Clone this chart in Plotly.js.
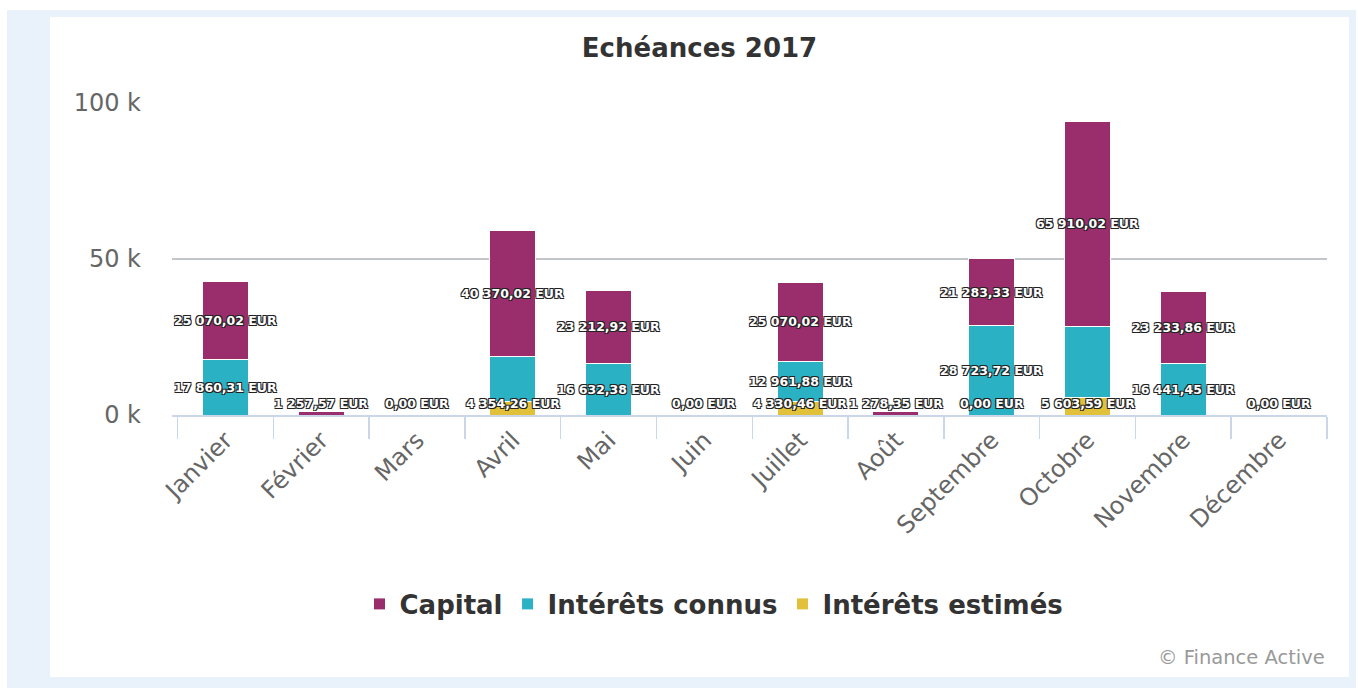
<!DOCTYPE html>
<html><head><meta charset="utf-8">
<script src="https://cdn.plot.ly/plotly-3.0.1.min.js"></script>
<style>
html,body{margin:0;padding:0;background:#fff;}
#bg{position:absolute;left:7px;top:10px;width:1349px;height:678px;background:#e9f1fa;}
#chart{position:absolute;left:50px;top:17px;width:1299px;height:660px;background:#fff;}
</style></head><body><div id="bg"></div><div id="chart"></div>
<script>
const months = ['Janvier','Février','Mars','Avril','Mai','Juin','Juillet','Août','Septembre','Octobre','Novembre','Décembre'];
const capital = [25070.02,1257.57,0,40370.02,23212.92,0,25070.02,1278.35,21283.33,65910.02,23233.86,0];
const interetsConnus = [17860.31,0,0,14314.08,16632.38,0,12961.88,0,28723.72,22700.00,16441.45,0];
const interetsEstimes = [0,0,0,4354.26,0,0,4330.46,0,0,5603.59,0,0];
const yTickVals = [0,50000,100000];
const yTickText = ['0 k','50 k','100 k'];

const colCapital = '#9a2e6c', colConnus = '#2bb1c4', colEstimes = '#e2c13a';

function fmt(v){
  const p = v.toFixed(2).split('.');
  return p[0].replace(/\B(?=(\d{3})+(?!\d))/g,' ') + ',' + p[1] + ' EUR';
}

const W = 1299, H = 660, M = {l:122, r:22, t:86, b:262};
const plotW = W - M.l - M.r, plotH = H - M.t - M.b;
const yMax = 100000;
const catW = plotW / months.length;
const pxPerY = plotH / yMax;

const barTrace = (name, vals, color) => ({
  type:'bar', name:name, x:months, y:vals,
  marker:{color:color, line:{color:'#ffffff', width:1}},
  hoverinfo:'none'
});

const traces = [
  barTrace('Intérêts estimés', interetsEstimes, colEstimes),
  barTrace('Intérêts connus', interetsConnus, colConnus),
  barTrace('Capital', capital, colCapital)
];

// data labels (stack-centered, kept inside plot, overlapping ones hidden by segment size)
const canvas = document.createElement('canvas');
const ctx = canvas.getContext('2d');
const labelFontSize = 12.5;
ctx.font = 'bold ' + labelFontSize + 'px "DejaVu Sans"';
const series = [capital, interetsConnus, interetsEstimes];
const cands = [];
months.forEach((m,i)=>{
  const est = interetsEstimes[i], con = interetsConnus[i];
  const bases = [est+con, est, 0];
  series.forEach((s,k)=>{
    const v = s[i];
    let mid = bases[k] + v/2;
    const minC = 12 / pxPerY;
    if (mid < minC) mid = minC;
    const txt = fmt(v);
    const w = ctx.measureText(txt).width;
    cands.push({i:i, m:m, y:mid, txt:txt, w:w, rank:v*pxPerY, order:cands.length,
      px:(i+0.5)*catW, py:mid*pxPerY});
  });
});
const sorted = cands.slice().sort((a,b)=> b.rank - a.rank || a.order - b.order);
const kept = [];
sorted.forEach(c=>{
  const hit = kept.some(k => Math.abs(k.px - c.px) < (k.w + c.w)/2 - 4 && Math.abs(k.py - c.py) < 18);
  if (!hit) kept.push(c);
});
const shadow = '1px 1px 0px #222, -1px -1px 0px #222, 1px -1px 0px #222, -1px 1px 0px #222';
const annotations = kept.map(c=>({
  x:c.m, y:c.y, xref:'x', yref:'y', text:'<b>'+c.txt+'</b>', showarrow:false,
  xanchor:'center', yanchor:'middle',
  font:{family:'DejaVu Sans', size:labelFontSize, color:'#ffffff', shadow:shadow}
}));
annotations.push({
  xref:'paper', yref:'paper', x:1, y:-(640 - (H - M.b))/plotH, xanchor:'right', yanchor:'middle',
  text:'© Finance Active', showarrow:false,
  font:{family:'DejaVu Sans', size:19.5, color:'#999999'}
});

const layout = {
  width:W, height:H,
  margin:M,
  paper_bgcolor:'#ffffff', plot_bgcolor:'#ffffff',
  barmode:'stack', bargap:0.52,
  title:{text:'<b>Echéances 2017</b>', x:0.5, xref:'container', xanchor:'center',
    y:1-31/H, yref:'container', yanchor:'middle',
    font:{family:'DejaVu Sans', size:26, color:'#333333'}},
  xaxis:{type:'category', showline:true, linecolor:'#ccd6eb', linewidth:1.5,
    ticks:'outside', tickson:'boundaries', ticklen:22, tickcolor:'#ccd6eb', tickwidth:1.5,
    tickangle:-45, showgrid:false, zeroline:false,
    tickfont:{family:'DejaVu Sans', size:24, color:'#666666'}},
  yaxis:{range:[0,yMax], tickvals:yTickVals, ticktext:yTickText, showgrid:true,
    gridcolor:'#c2c5ca', gridwidth:1.5, zeroline:false, showline:false, ticks:'',
    ticklabelstandoff:30,
    tickfont:{family:'DejaVu Sans', size:24, color:'#666666'}},
  showlegend:true,
  legend:{orientation:'h', traceorder:'reversed', xref:'container', x:664/W, xanchor:'center',
    yref:'container', y:1-587/H, yanchor:'middle', bgcolor:'rgba(0,0,0,0)',
    font:{family:'DejaVu Sans', size:26, color:'#333333', weight:'bold'}},
  annotations:annotations
};

Plotly.newPlot('chart', traces, layout, {displayModeBar:false, staticPlot:true});
</script></body></html>
